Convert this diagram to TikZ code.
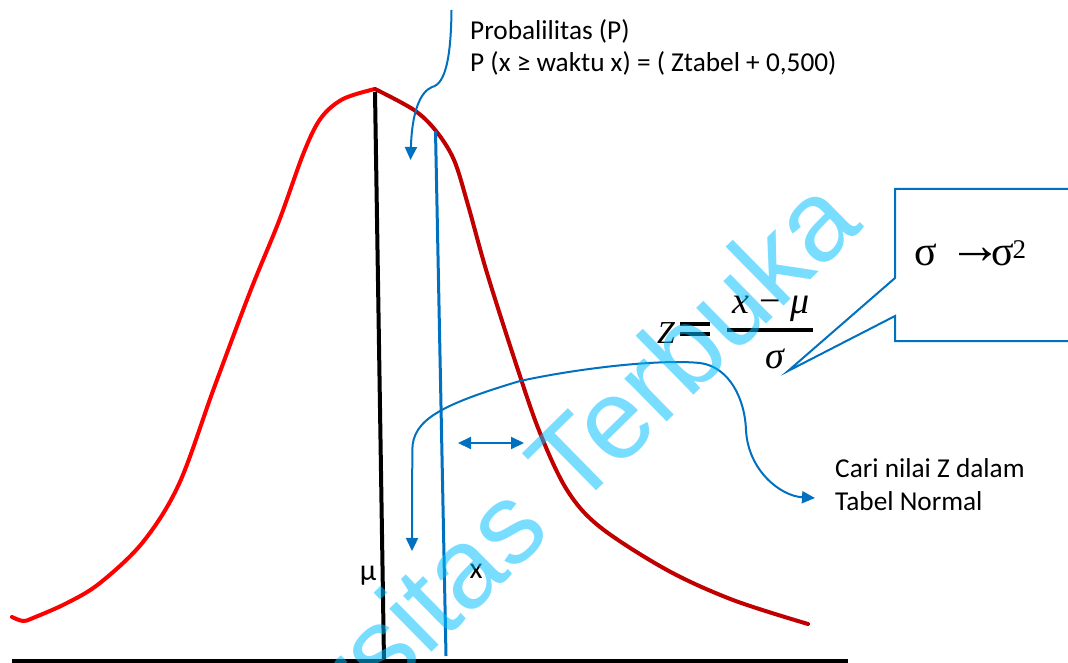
\documentclass[tikz,border=0pt]{standalone}
\usepackage{fontspec}
\setmainfont{Carlito}
\newfontfamily\tms{Liberation Serif}
\newfontfamily\wmfont{Liberation Sans}
\usetikzlibrary{arrows.meta}
\definecolor{ublue}{RGB}{0,112,192}
\definecolor{bred}{RGB}{255,0,0}
\definecolor{dred}{RGB}{192,0,0}
\definecolor{wmcyan}{RGB}{0,190,255}
\tikzset{
  bluearrow/.style={draw=ublue, line width=2pt, -{Triangle[length=13pt,width=12pt]}},
  bluedouble/.style={draw=ublue, line width=2pt, {Triangle[length=13pt,width=12pt]}-{Triangle[length=13pt,width=12pt]}},
  lbl/.style={inner sep=0pt, font=\fontsize{27.3}{33}\selectfont},
  biglbl/.style={inner sep=0pt, font=\fontsize{30}{34}\selectfont},
  mathlbl/.style={inner sep=0pt, font=\tms\fontsize{38}{42}\selectfont},
  boxlbl/.style={inner sep=0pt, font=\tms\fontsize{42}{46}\selectfont},
  curveL/.style={draw=bred, line width=4pt, line cap=round, line join=round},
  curveR/.style={draw=dred, line width=4pt, line cap=round, line join=round},
}
\begin{document}
\begin{tikzpicture}[x=1pt,y=-1pt]
\useasboundingbox (0,0) rectangle (1068,663);
\begin{scope}
\clip (0,0) rectangle (1068,663);

% axis
\coordinate (axL) at (12,661);
\coordinate (axR) at (848,661);
\draw[line width=4.5pt] (axL) -- (axR);

% normal curve
\draw[curveL] plot[smooth, tension=0.55] coordinates {(12,617) (23,621) (33,618) (67,603) (100,583) (143,542) (179,484) (214,388) (250,292) (279,221) (304,152) (321,118) (343,99) (375,89)};
\draw[curveR] plot[smooth, tension=0.55] coordinates {(375,89) (414,110) (436,131) (454,160) (468,205) (487,273) (517,367) (540,433) (567,490) (600,527) (667,570) (733,600) (808,624)};

% mean line and x line
\coordinate (mutop) at (375,92);
\coordinate (mubot) at (384,661);
\draw[line width=4pt] (mutop) -- (mubot);
\coordinate (xtop) at (435.5,131);
\coordinate (xbot) at (446,656);
\draw[ublue, line width=3pt] (xtop) -- (xbot);

% top arrow
\coordinate (pa0) at (451.5,10);
\coordinate (pa1) at (410.5,160);
\draw[bluearrow] (pa0) .. controls (451,55) and (446,84) .. (432,87) .. controls (420,92) and (412,112) .. (pa1);

% big curved double arrow
\coordinate (c1) at (412,551);
\coordinate (c2) at (815,498);
\draw[bluedouble] (c1) -- (412.3,450) .. controls (412.5,420) and (440,405) .. (520,381) .. controls (580,368) and (660,359) .. (700,363) .. controls (730,367) and (745,400) .. (746,430) .. controls (748,470) and (780,496) .. (c2);

% small double arrow
\coordinate (da1) at (458,443);
\coordinate (da2) at (524,443);
\draw[bluedouble] (da1) -- (da2);

% callout
\coordinate (ctip) at (788,371);
\draw[ublue, line width=2pt, fill=white, line join=miter] (1080,189) -- (895,189) -- (895,278) -- (ctip) -- (895,316) -- (895,341) -- (1080,341) -- cycle;
\node[boxlbl, anchor=base west] (sig1) at (914,265) {σ};
\node[inner sep=0pt, font=\tms\fontsize{54}{54}\selectfont] (arr) at (975,256) {→};
\node[boxlbl, anchor=base west] (sig2) at (991,265) {σ};
\node[inner sep=0pt, font=\tms\fontsize{27}{27}\selectfont, anchor=base west] (sup) at (1012.5,258.5) {2};

% formula
\node[inner sep=0pt, font=\tms\fontsize{32}{36}\selectfont, anchor=base west] (Z) at (657,343) {\itshape Z};
\coordinate (eqa1) at (680,324);
\coordinate (eqa2) at (710,324);
\coordinate (eqb1) at (680,334);
\coordinate (eqb2) at (710,334);
\draw[line width=3.5pt] (eqa1) -- (eqa2);
\draw[line width=3.5pt] (eqb1) -- (eqb2);
\coordinate (fb1) at (727,330);
\coordinate (fb2) at (813,330);
\draw[line width=4.5pt] (fb1) -- (fb2);
\node[mathlbl, anchor=base] (num) at (771,313) {{\itshape x} − {\itshape μ}};
\node[mathlbl, anchor=base] (den) at (775,368) {\itshape σ};

% texts
\node[lbl, anchor=base west] (prob) at (470,39.3) {Probalilitas (P)};
\node[lbl, anchor=base west] (peq) at (470,71.7) {P (x ≥ waktu x) = ( Ztabel + 0,500)};
\node[lbl, anchor=base west] (cari1) at (835,477) {Cari nilai Z dalam};
\node[lbl, anchor=base west] (cari2) at (835,510) {Tabel Normal};
\node[biglbl, anchor=base] (mulab) at (368,580) {μ};
\node[biglbl, anchor=base] (xlab) at (476,578) {x};

% watermark
\node[rotate=44.5, anchor=base east, inner sep=0pt, text=wmcyan, text opacity=0.53, font=\wmfont\fontsize{114}{120}\selectfont] (wm) at (865,227) {Universitas Terbuka};
\end{scope}
\end{tikzpicture}
\end{document}
